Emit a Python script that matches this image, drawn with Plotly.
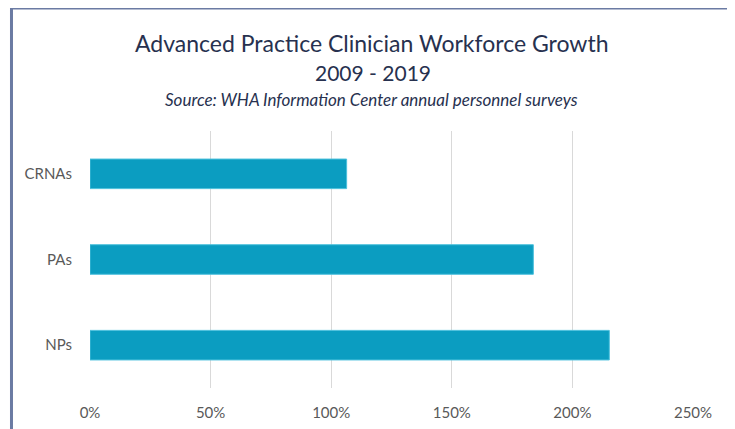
import plotly.graph_objects as go

# data
categories = ["NPs", "PAs", "CRNAs"]
growth = [2.153, 1.838, 1.064]
x_ticks = [0, 0.5, 1.0, 1.5, 2.0, 2.5]

TITLE = "Advanced Practice Clinician Workforce Growth"
SUBTITLE = "2009 - 2019"
SOURCE = "Source: WHA Information Center annual personnel surveys"

FONT = "Lato, Open Sans, sans-serif"
NAVY = "#27314f"
BAR = "#0b9dc1"
FRAME = "#6b7ba3"

fig = go.Figure()
fig.add_trace(go.Bar(
    x=growth,
    y=categories,
    orientation="h",
    marker=dict(color=BAR, line=dict(color="#4cc0dc", width=1)),
    hoverinfo="x+y",
))

# the page body adds an 8px offset, margins compensate for it
fig.update_layout(
    width=735, height=429,
    margin=dict(l=82, r=50, t=123, b=49),
    paper_bgcolor="white", plot_bgcolor="white",
    showlegend=False,
    bargap=0.655,
    font=dict(family=FONT, color="#595959", size=15),
)

fig.update_xaxes(
    range=[0, 2.5], tickvals=x_ticks, tickformat=".0%",
    showgrid=True, gridcolor="#d9d9d9", gridwidth=1,
    zeroline=False, showline=False, ticks="",
    ticklabelstandoff=14, tickfont=dict(size=15, color="#595959"),
)
fig.update_yaxes(
    categoryorder="array", categoryarray=categories,
    showgrid=False, zeroline=False, showline=False, ticks="",
    ticklabelstandoff=17, tickfont=dict(size=15, color="#595959"),
)

# frame round the chart
fig.add_shape(type="rect", xref="paper", yref="paper",
              x0=-0.1302, x1=1.0796, y0=-0.25, y1=1.4786,
              line=dict(color=FRAME, width=3), layer="above")

# titles
fig.add_annotation(text=TITLE, xref="paper", yref="paper", x=0.468, y=1.342,
                   yanchor="middle", showarrow=False,
                   font=dict(family=FONT, size=23, color=NAVY))
fig.add_annotation(text=SUBTITLE, xref="paper", yref="paper", x=0.47, y=1.226,
                   yanchor="middle", showarrow=False,
                   font=dict(family=FONT, size=21, color=NAVY))
fig.add_annotation(text="<i>" + SOURCE + "</i>", xref="paper", yref="paper", x=0.467, y=1.121,
                   yanchor="middle", showarrow=False,
                   font=dict(family=FONT, size=17, color=NAVY))

fig.write_html("out.html")
